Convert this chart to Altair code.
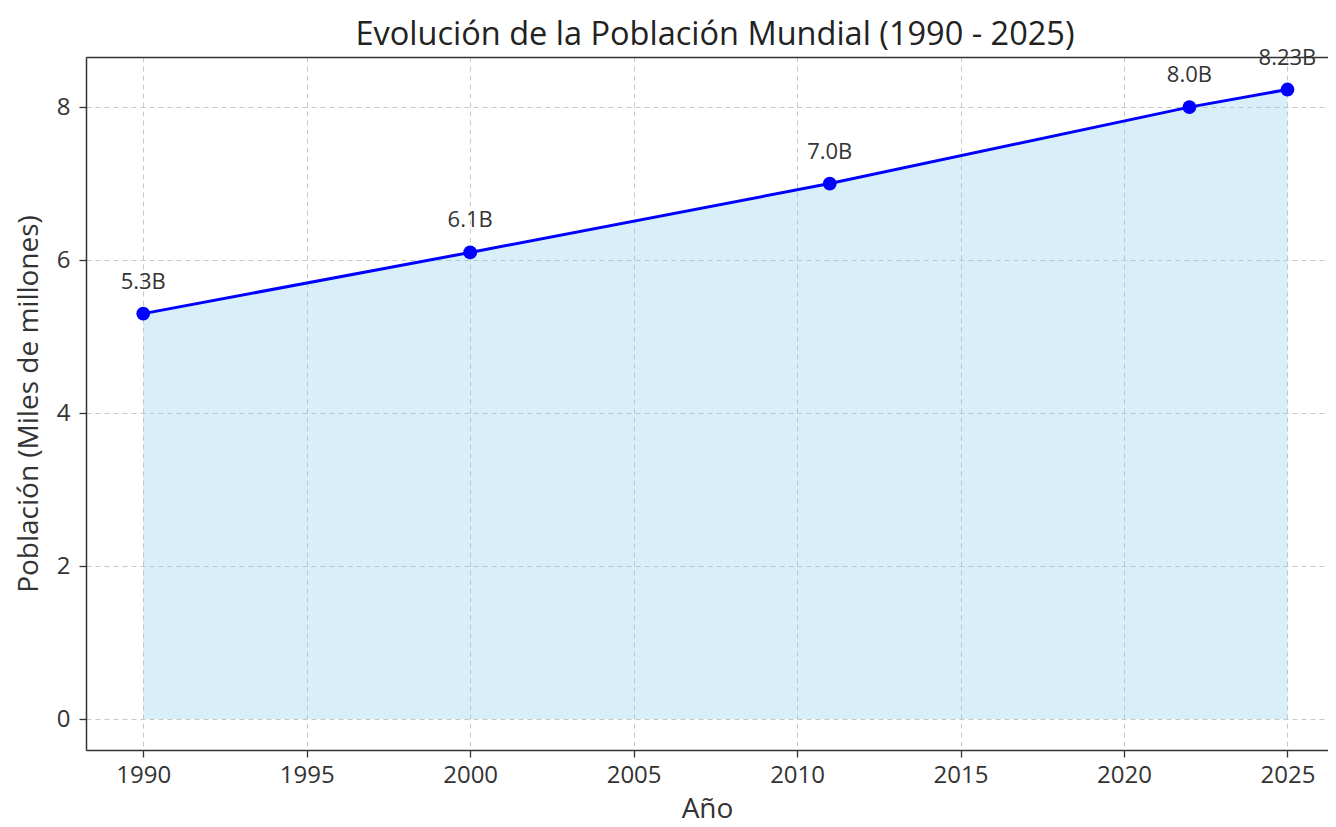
import altair as alt
import pandas as pd

years = [1990, 2000, 2011, 2022, 2025]
population = [5.3, 6.1, 7.0, 8.0, 8.23]
point_labels = ["5.3B", "6.1B", "7.0B", "8.0B", "8.23B"]
x_ticks = [1990, 1995, 2000, 2005, 2010, 2015, 2020, 2025]
y_ticks = [0, 2, 4, 6, 8]

df = pd.DataFrame({"year": years, "pop": population, "label": point_labels})

FONT = "Open Sans"
xscale = alt.Scale(domain=[1988.25, 2026.24], nice=False, zero=False)
yscale = alt.Scale(domain=[-0.405, 8.655], nice=False, zero=False)

grid_kw = dict(gridDash=[5, 4], gridColor="#c8c8c8", gridWidth=1)

x_axis_bottom = alt.Axis(orient="bottom", values=x_ticks, format="d", grid=True, **grid_kw,
                         domainColor="#333333", domainWidth=1.5,
                         tickColor="#333333", tickSize=7, tickWidth=1.3,
                         labelFontSize=24, labelColor="#333333", labelPadding=6,
                         labelFont=FONT, titleFont=FONT, titleFontSize=28,
                         titleFontWeight="normal", titleColor="#333333",
                         titlePadding=8)
x_bottom = alt.X("year:Q", scale=xscale, title="Año", axis=x_axis_bottom)
x_top = alt.X("year:Q", scale=xscale, title=None,
              axis=alt.Axis(orient="top", labels=False, ticks=False, grid=False,
                            domainColor="#333333", domainWidth=1.5))
y_axis = alt.Axis(values=y_ticks, format="d", grid=True, **grid_kw,
                  domainColor="#333333", domainWidth=1.5,
                  tickColor="#333333", tickSize=7, tickWidth=1.3,
                  labelFontSize=24, labelColor="#333333", labelPadding=9,
                  labelFont=FONT, titleFont=FONT, titleFontSize=28,
                  titleFontWeight="normal", titleColor="#333333",
                  titlePadding=13)
y_enc = alt.Y("pop:Q", scale=yscale, title="Población (Miles de millones)", axis=y_axis)

area = alt.Chart(df).mark_area(color="#87ceeb", opacity=0.32).encode(
    x=x_top, y=y_enc, y2=alt.datum(0))
line = alt.Chart(df).mark_line(color="#0000ff", strokeWidth=3).encode(
    x=x_bottom, y=y_enc)
points = alt.Chart(df).mark_circle(color="#0000ff", opacity=1, size=190).encode(
    x=x_bottom, y=y_enc)
texts = alt.Chart(df).mark_text(font=FONT, fontSize=22, color="#333333",
                                dy=-32, baseline="middle").encode(
    x=x_bottom, y=y_enc, text="label:N")

inner = alt.layer(line, points, texts)

chart = alt.layer(area, inner).resolve_axis(x="independent").properties(
    width=1242, height=693,
    title=alt.TitleParams("Evolución de la Población Mundial (1990 - 2025)",
                          font=FONT, fontSize=32.5, fontWeight="normal",
                          color="#222222", anchor="middle", offset=-5, dx=8),
    autosize=alt.AutoSizeParams(type="none"),
    padding={"left": 78, "top": 49, "right": 0, "bottom": 78},
).configure_view(stroke=None).configure(background="white")

chart.save("out.html", embed_options={"renderer": "svg", "actions": False})
